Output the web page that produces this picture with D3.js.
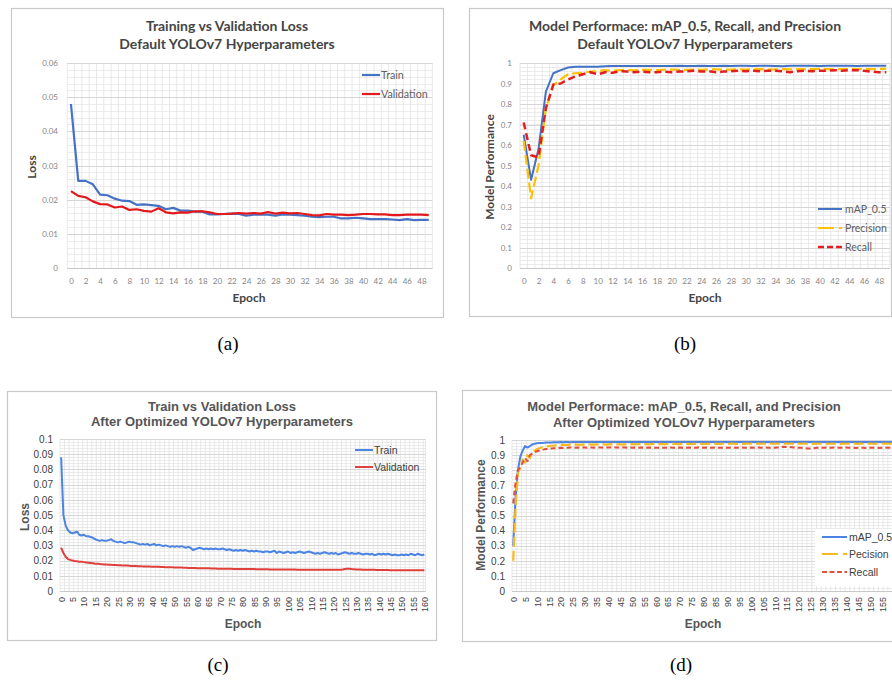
<!DOCTYPE html>
<html><head><meta charset="utf-8">
<script src="https://cdn.jsdelivr.net/npm/d3@7"></script>
<style>body{margin:0;background:#fff}svg{display:block}</style>
</head><body>
<svg id="chart" width="892" height="682"></svg>
<script>
// ---------- Panel (a): default loss ----------
const epochsA = d3.range(0, 50);
const trainA = [0.048,0.0255,0.0255,0.0245,0.0215,0.0213,0.0203,0.0197,0.0196,0.0185,
0.0186,0.0184,0.0182,0.0172,0.0176,0.0168,0.0168,0.0165,0.0165,0.0157,
0.0157,0.0158,0.0159,0.0158,0.0153,0.0156,0.0156,0.0156,0.0153,0.0157,
0.0156,0.0155,0.0153,0.0150,0.0149,0.0150,0.0150,0.0145,0.0145,0.0147,
0.0145,0.0143,0.0143,0.0143,0.0142,0.0140,0.0143,0.0140,0.0141,0.0141];
const valA = [0.0225,0.0211,0.0207,0.0195,0.0187,0.0186,0.0177,0.0180,0.0170,0.0172,
0.0167,0.0165,0.0175,0.0163,0.0160,0.0163,0.0162,0.0166,0.0166,0.0163,
0.0158,0.0158,0.0159,0.0161,0.0159,0.0161,0.0159,0.0164,0.0159,0.0162,
0.0160,0.0161,0.0158,0.0155,0.0154,0.0158,0.0156,0.0156,0.0155,0.0156,
0.0158,0.0158,0.0157,0.0157,0.0155,0.0155,0.0156,0.0156,0.0156,0.0155];
const yTicksA = [0,0.01,0.02,0.03,0.04,0.05,0.06];

// ---------- Panel (b): default performance ----------
const epochsB = d3.range(0, 50);
const mapB = [0.65,0.43,0.58,0.86,0.95,0.965,0.978,0.982,0.982,0.982,
0.982,0.984,0.985,0.985,0.985,0.985,0.985,0.985,0.985,0.985,
0.985,0.986,0.985,0.985,0.986,0.985,0.985,0.986,0.985,0.986,
0.986,0.985,0.986,0.986,0.985,0.984,0.986,0.986,0.986,0.986,
0.985,0.986,0.986,0.986,0.986,0.985,0.986,0.986,0.986,0.986];
const precB = [0.62,0.34,0.50,0.78,0.89,0.92,0.945,0.95,0.952,0.958,
0.96,0.965,0.962,0.965,0.966,0.964,0.966,0.967,0.965,0.967,
0.968,0.967,0.966,0.968,0.967,0.968,0.969,0.967,0.968,0.969,
0.968,0.969,0.97,0.968,0.969,0.97,0.969,0.97,0.969,0.97,
0.971,0.97,0.969,0.97,0.971,0.97,0.971,0.97,0.971,0.972];
const recB = [0.71,0.55,0.54,0.78,0.895,0.90,0.92,0.935,0.945,0.955,
0.945,0.955,0.952,0.96,0.958,0.955,0.958,0.955,0.955,0.958,
0.955,0.958,0.96,0.962,0.958,0.96,0.955,0.958,0.96,0.962,
0.96,0.962,0.96,0.962,0.962,0.96,0.955,0.96,0.962,0.96,
0.962,0.962,0.965,0.962,0.965,0.965,0.962,0.958,0.955,0.955];
const yTicksB = [0,0.1,0.2,0.3,0.4,0.5,0.6,0.7,0.8,0.9,1];

// ---------- Panel (c): optimized loss ----------
const epochsC = d3.range(0, 161);
const trainC = [0.088,0.050,0.043,0.040,0.0385,0.038,0.0385,0.039,0.037,0.0365,
0.037,0.036,0.036,0.0355,0.035,0.034,0.0335,0.033,0.0335,0.033,
0.033,0.0335,0.034,0.033,0.0325,0.032,0.0325,0.032,0.0315,0.032,
0.0325,0.032,0.032,0.0315,0.031,0.0305,0.031,0.0305,0.031,0.030,
0.0305,0.031,0.030,0.0305,0.030,0.0295,0.030,0.0295,0.029,0.0295,
0.029,0.0295,0.029,0.0295,0.029,0.0285,0.029,0.0285,0.027,0.0275,
0.028,0.0285,0.028,0.0275,0.028,0.0275,0.028,0.0275,0.028,0.0275,
0.0275,0.028,0.0275,0.027,0.0275,0.027,0.0265,0.027,0.0265,0.027,
0.0265,0.027,0.0265,0.026,0.0265,0.026,0.0265,0.026,0.026,0.0255,
0.026,0.026,0.0255,0.026,0.0265,0.025,0.026,0.0255,0.025,0.0255,
0.026,0.025,0.0255,0.025,0.0255,0.026,0.0255,0.025,0.0255,0.026,
0.0255,0.025,0.0245,0.025,0.0245,0.025,0.0255,0.025,0.0245,0.025,
0.0245,0.025,0.024,0.0245,0.025,0.0255,0.025,0.0245,0.025,0.0245,
0.0245,0.025,0.0245,0.024,0.0245,0.0245,0.024,0.0245,0.0235,0.024,
0.0245,0.024,0.0245,0.024,0.0245,0.024,0.0235,0.024,0.0235,0.0235,
0.024,0.0235,0.024,0.0235,0.0245,0.024,0.0235,0.0245,0.024,0.0235,
0.024];
const valC = [0.0285,0.025,0.0225,0.021,0.0205,0.020,0.0197,0.0195,0.0193,0.0192,
0.019,0.0188,0.0186,0.0184,0.0182,0.018,0.0179,0.0177,0.0176,0.0175,
0.0174,0.0173,0.0172,0.0171,0.0171,0.017,0.0169,0.0168,0.0168,0.0167,
0.0166,0.0165,0.0165,0.0164,0.0163,0.0163,0.0162,0.0162,0.0161,0.0161,
0.016,0.016,0.0159,0.0159,0.0158,0.0158,0.0157,0.0157,0.0156,0.0156,
0.0155,0.0155,0.0154,0.0154,0.0153,0.0153,0.0152,0.0152,0.0151,0.0151,
0.015,0.015,0.015,0.0149,0.0149,0.0149,0.0148,0.0148,0.0148,0.0147,
0.0147,0.0147,0.0146,0.0146,0.0146,0.0146,0.0145,0.0145,0.0145,0.0145,
0.0145,0.0144,0.0144,0.0144,0.0144,0.0144,0.0143,0.0143,0.0143,0.0143,
0.0143,0.0143,0.0142,0.0142,0.0142,0.0142,0.0142,0.0142,0.0141,0.0141,
0.0141,0.0141,0.0141,0.0141,0.014,0.014,0.014,0.014,0.014,0.014,
0.0139,0.0139,0.0139,0.0139,0.0139,0.0139,0.0139,0.0139,0.0139,0.0139,
0.0139,0.0139,0.0139,0.014,0.0142,0.0145,0.0147,0.0146,0.0144,0.0143,
0.0142,0.0141,0.0141,0.014,0.014,0.014,0.0139,0.0139,0.0139,0.0138,
0.0138,0.0138,0.0138,0.0138,0.0138,0.0137,0.0137,0.0137,0.0137,0.0137,
0.0137,0.0137,0.0137,0.0137,0.0137,0.0137,0.0137,0.0137,0.0137,0.0137,
0.0136];
const yTicksC = [0,0.01,0.02,0.03,0.04,0.05,0.06,0.07,0.08,0.09,0.1];

// ---------- Panel (d): optimized performance ----------
const epochsD = d3.range(0, 161);
const mapD = [0.30,0.62,0.80,0.89,0.93,0.96,0.95,0.96,0.97,0.975,
0.978,0.98,0.98,0.982,0.983,0.984,0.984,0.985,0.985,0.985,
0.986,0.985,0.986,0.986,0.985,0.986,0.986,0.987,0.986,0.986,
0.986,0.987,0.986,0.986,0.987,0.986,0.986,0.987,0.986,0.987,
0.986,0.987,0.987,0.986,0.987,0.986,0.987,0.987,0.986,0.987,
0.987,0.986,0.987,0.987,0.986,0.987,0.987,0.987,0.986,0.987,
0.987,0.986,0.987,0.987,0.987,0.986,0.987,0.987,0.986,0.987,
0.987,0.987,0.986,0.987,0.987,0.986,0.987,0.987,0.987,0.986,
0.987,0.987,0.986,0.987,0.987,0.987,0.986,0.987,0.987,0.986,
0.987,0.987,0.987,0.986,0.987,0.987,0.986,0.987,0.987,0.987,
0.986,0.987,0.987,0.986,0.987,0.987,0.987,0.986,0.987,0.987,
0.986,0.987,0.987,0.987,0.986,0.987,0.987,0.986,0.987,0.987,
0.987,0.986,0.987,0.987,0.986,0.987,0.987,0.987,0.986,0.987,
0.987,0.986,0.987,0.987,0.987,0.986,0.987,0.987,0.986,0.987,
0.987,0.987,0.986,0.987,0.987,0.986,0.987,0.987,0.987,0.986,
0.987,0.987,0.986,0.987,0.987,0.987,0.986,0.987,0.987,0.986,
0.987];
const precD = [0.20,0.55,0.78,0.82,0.87,0.85,0.90,0.88,0.92,0.93,
0.94,0.945,0.95,0.955,0.958,0.96,0.962,0.963,0.965,0.966,
0.966,0.968,0.967,0.968,0.969,0.968,0.970,0.969,0.968,0.970,
0.969,0.970,0.971,0.969,0.970,0.971,0.970,0.969,0.971,0.970,
0.971,0.972,0.970,0.971,0.972,0.971,0.970,0.972,0.971,0.972,
0.973,0.971,0.972,0.973,0.972,0.971,0.973,0.972,0.973,0.974,
0.972,0.973,0.974,0.973,0.972,0.974,0.973,0.974,0.975,0.973,
0.974,0.973,0.974,0.975,0.974,0.973,0.975,0.974,0.975,0.974,
0.973,0.975,0.974,0.975,0.976,0.974,0.975,0.974,0.975,0.976,
0.974,0.975,0.976,0.975,0.974,0.976,0.975,0.974,0.976,0.975,
0.976,0.975,0.974,0.976,0.975,0.976,0.975,0.974,0.976,0.975,
0.976,0.975,0.976,0.974,0.975,0.976,0.975,0.976,0.975,0.974,
0.976,0.975,0.976,0.975,0.976,0.975,0.974,0.976,0.975,0.976,
0.975,0.976,0.974,0.975,0.976,0.975,0.976,0.975,0.974,0.976,
0.975,0.976,0.975,0.976,0.975,0.974,0.976,0.975,0.976,0.975,
0.976,0.975,0.974,0.976,0.975,0.976,0.975,0.976,0.975,0.974,
0.976];
const recD = [0.58,0.72,0.80,0.82,0.85,0.88,0.86,0.90,0.91,0.92,
0.925,0.93,0.935,0.938,0.94,0.942,0.944,0.945,0.946,0.947,
0.948,0.947,0.949,0.948,0.950,0.949,0.948,0.950,0.949,0.951,
0.950,0.949,0.951,0.950,0.949,0.951,0.950,0.951,0.949,0.950,
0.951,0.950,0.949,0.951,0.950,0.949,0.950,0.951,0.949,0.950,
0.949,0.950,0.948,0.949,0.950,0.948,0.949,0.950,0.948,0.949,
0.948,0.949,0.950,0.948,0.949,0.948,0.950,0.949,0.948,0.949,
0.950,0.948,0.949,0.948,0.950,0.949,0.948,0.949,0.950,0.948,
0.949,0.950,0.948,0.949,0.948,0.950,0.949,0.948,0.949,0.950,
0.948,0.949,0.950,0.948,0.949,0.948,0.950,0.949,0.948,0.949,
0.950,0.948,0.949,0.950,0.949,0.948,0.950,0.949,0.948,0.950,
0.949,0.950,0.951,0.953,0.955,0.954,0.953,0.952,0.951,0.950,
0.949,0.948,0.947,0.946,0.944,0.943,0.945,0.947,0.948,0.949,
0.948,0.949,0.950,0.948,0.949,0.950,0.948,0.949,0.948,0.949,
0.950,0.948,0.949,0.948,0.947,0.948,0.949,0.948,0.947,0.948,
0.949,0.948,0.949,0.948,0.947,0.949,0.950,0.949,0.948,0.949,
0.948];
const yTicksD = [0,0.1,0.2,0.3,0.4,0.5,0.6,0.7,0.8,0.9,1];

const captions = ["(a)", "(b)", "(c)", "(d)"];

const svg = d3.select("#chart");
const fmt = d => String(+d.toFixed(3));
const W = 892;

function panel(o) {
  const g = svg.append("g");
  g.append("rect").attr("x", o.frame[0] + 0.5).attr("y", o.frame[1] + 0.5)
    .attr("width", o.frame[2] - o.frame[0]).attr("height", o.frame[3] - o.frame[1])
    .attr("fill", "#fff").attr("stroke", "#c8c8c8").attr("stroke-width", 1.2);

  const x = d3.scalePoint().domain(o.cats).range([o.px[0], o.px[1]]).padding(0.5);
  const step = x.step();
  const y = d3.scaleLinear().domain([0, o.ymax]).range([o.py[0], o.py[1]]);
  const grid = g.append("g");
  const minorH = d3.range(0, o.ymax + 1e-9, o.ymax / o.minorH);
  grid.selectAll(".mh").data(minorH).join("line")
    .attr("x1", o.px[0]).attr("x2", o.px[1])
    .attr("y1", d => Math.round(y(d)) + 0.5).attr("y2", d => Math.round(y(d)) + 0.5)
    .attr("stroke", "#ececec").attr("stroke-width", 1);
  const vb = o.cats.filter((c, i) => i % o.vEvery === 0).map(c => x(c) - step / 2);
  vb.push(o.px[1]);
  grid.selectAll(".vg").data(vb).join("line")
    .attr("x1", d => d).attr("x2", d => d)
    .attr("y1", y(o.ymax)).attr("y2", y(0))
    .attr("stroke", "#e2e2e2").attr("stroke-width", 0.8);
  grid.selectAll(".hg").data(o.yTicks).join("line")
    .attr("x1", o.px[0]).attr("x2", o.px[1])
    .attr("y1", d => Math.round(y(d)) + 0.5).attr("y2", d => Math.round(y(d)) + 0.5)
    .attr("stroke", "#d6d6d6").attr("stroke-width", 1);
  g.append("line").attr("x1", o.px[0]).attr("x2", o.px[1])
    .attr("y1", Math.round(y(0)) + 0.5).attr("y2", Math.round(y(0)) + 0.5)
    .attr("stroke", "#c8c8c8");

  const yAxis = d3.axisLeft(y).tickValues(o.yTicks).tickFormat(fmt).tickSize(0).tickPadding(0);
  const ya = g.append("g").attr("transform", `translate(${o.yLabX},0)`).call(yAxis);
  ya.select(".domain").remove();
  ya.selectAll("text").attr("font-family", o.tickFont).attr("font-size", o.tickSize).attr("fill", o.tickColor);

  const xVals = o.cats.filter((c, i) => i % o.xEvery === 0 && x(c) + 4 < W);
  const xAxis = d3.axisBottom(x).tickValues(xVals).tickSize(0).tickPadding(0);
  const xa = g.append("g").attr("transform", `translate(0,${o.xLabY})`).call(xAxis);
  xa.select(".domain").remove();
  xa.selectAll("text").attr("font-family", o.tickFont).attr("font-size", o.xTickSize || o.tickSize).attr("fill", o.tickColor);
  if (o.rotate) {
    xa.selectAll("text").attr("transform", "rotate(-90)").attr("text-anchor", "end")
      .attr("dy", "0.35em").attr("y", 0).attr("x", 0);
  } else {
    xa.selectAll("text").attr("dy", "0.35em").attr("y", 0);
  }

  const line = d3.line().x((d, i) => x(o.cats[i])).y(d => y(d));
  o.series.forEach(s => {
    g.append("path").datum(s.values).attr("d", line).attr("fill", "none")
      .attr("stroke", s.color).attr("stroke-width", s.width)
      .attr("stroke-dasharray", s.dash || null).attr("stroke-linejoin", "round");
  });

  o.title.forEach((t, i) => {
    g.append("text").attr("x", o.titleX).attr("y", o.titleY[i]).attr("text-anchor", "middle")
      .attr("font-family", o.titleFont).attr("font-weight", "bold").attr("font-size", o.titleSize)
      .attr("fill", o.titleColor).text(t);
  });
  g.append("text").attr("x", o.xTitle[0]).attr("y", o.xTitle[1]).attr("text-anchor", "middle")
    .attr("font-family", o.titleFont).attr("font-weight", "bold").attr("font-size", o.axTitleSize)
    .attr("fill", o.titleColor).text("Epoch");
  g.append("text").attr("transform", `translate(${o.yTitle[0]},${o.yTitle[1]}) rotate(-90)`)
    .attr("text-anchor", "middle").attr("dy", "0.35em")
    .attr("font-family", o.titleFont).attr("font-weight", "bold").attr("font-size", o.axTitleSize)
    .attr("fill", o.titleColor).text(o.yTitleText);

  const lg = g.append("g");
  if (o.legendBox) {
    lg.append("rect").attr("x", o.legendBox[0]).attr("y", o.legendBox[1])
      .attr("width", o.legendBox[2]).attr("height", o.legendBox[3]).attr("fill", "#fff");
  }
  o.series.forEach((s, i) => {
    const ly = o.legend.y[i];
    lg.append("line").attr("x1", o.legend.x0).attr("x2", o.legend.x1).attr("y1", ly).attr("y2", ly)
      .attr("stroke", s.color).attr("stroke-width", s.width)
      .attr("stroke-dasharray", s.legendDash || null);
    lg.append("text").attr("x", o.legend.tx).attr("y", ly).attr("dy", "0.35em")
      .attr("font-family", o.legendFont).attr("font-size", o.legendSize).attr("fill", o.tickColor2 || "#404040")
      .text(s.name);
  });
}

// (a)
panel({
  frame: [11, 8, 443, 317], cats: epochsA, px: [67.3, 432.4], py: [268, 63], ymax: 0.06,
  yTicks: yTicksA, minorH: 30, vEvery: 1, xEvery: 2, yLabX: 58, xLabY: 281,
  tickFont: "Lato, 'Open Sans', sans-serif", tickSize: 8, tickColor: "#858585",
  series: [
    { name: "Train", values: trainA, color: "#4472C4", width: 2.2 },
    { name: "Validation", values: valA, color: "#E3191C", width: 2.2 }
  ],
  title: ["Training vs Validation Loss", "Default YOLOv7 Hyperparameters"],
  titleX: 227, titleY: [31, 49], titleFont: "Lato, sans-serif", titleSize: 14, titleColor: "#454545",
  xTitle: [249, 302], yTitle: [32, 167], yTitleText: "Loss", axTitleSize: 12,
  legend: { x0: 362, x1: 380, tx: 381, y: [75, 94] }, legendFont: "Lato, sans-serif", legendSize: 10.7, tickColor2: "#606060"
});

// (b)
panel({
  frame: [469, 8, 891, 316], cats: epochsB, px: [520, 890], py: [268, 63], ymax: 1,
  yTicks: yTicksB, minorH: 50, vEvery: 1, xEvery: 2, yLabX: 512, xLabY: 281,
  tickFont: "Lato, 'Open Sans', sans-serif", tickSize: 8, tickColor: "#858585",
  series: [
    { name: "mAP_0.5", values: mapB, color: "#4472C4", width: 2 },
    { name: "Precision", values: precB, color: "#FFC000", width: 2.2, dash: "10,4", legendDash: "16,5" },
    { name: "Recall", values: recB, color: "#E31E1E", width: 2.5, dash: "7,4", legendDash: "6,3" }
  ],
  title: ["Model Performace: mAP_0.5, Recall, and Precision", "Default YOLOv7 Hyperparameters"],
  titleX: 685, titleY: [31, 49], titleFont: "Lato, sans-serif", titleSize: 14, titleColor: "#454545",
  xTitle: [705, 302], yTitle: [490, 167], yTitleText: "Model Performance", axTitleSize: 12,
  legend: { x0: 818, x1: 842, tx: 845, y: [209, 228, 247] }, legendFont: "Lato, sans-serif", legendSize: 10.5, tickColor2: "#606060"
});

// (c)
panel({
  frame: [7, 391, 436, 640], cats: epochsC, px: [60, 425.5], py: [591, 439], ymax: 0.1,
  yTicks: yTicksC, minorH: 50, vEvery: 2, xEvery: 5, yLabX: 53, xLabY: 597,
  tickFont: "'Liberation Sans', Arial, sans-serif", tickSize: 10, xTickSize: 9, tickColor: "#404040",
  rotate: true,
  series: [
    { name: "Train", values: trainC, color: "#4C84E4", width: 2 },
    { name: "Validation", values: valC, color: "#E0403C", width: 2 }
  ],
  title: ["Train vs Validation Loss", "After Optimized YOLOv7 Hyperparameters"],
  titleX: 222, titleY: [410.5, 426], titleFont: "'Liberation Sans', Arial, sans-serif", titleSize: 13, titleColor: "#555555",
  xTitle: [243, 627.5], yTitle: [25, 517], yTitleText: "Loss", axTitleSize: 12,
  legend: { x0: 355, x1: 373, tx: 374, y: [450, 467] }, legendFont: "'Liberation Sans', Arial, sans-serif", legendSize: 10.5, tickColor2: "#404040"
});

// (d)
panel({
  frame: [462, 390, 905, 641], cats: epochsD, px: [512, 895], py: [591, 440], ymax: 1,
  yTicks: yTicksD, minorH: 50, vEvery: 2, xEvery: 5, yLabX: 505, xLabY: 597,
  tickFont: "'Liberation Sans', Arial, sans-serif", tickSize: 10, xTickSize: 9, tickColor: "#404040",
  rotate: true,
  series: [
    { name: "mAP_0.5", values: mapD, color: "#4C84E4", width: 2 },
    { name: "Pecision", values: precD, color: "#F6BA20", width: 2.2, dash: "10,4", legendDash: "16,5" },
    { name: "Recall", values: recD, color: "#E0503A", width: 2, dash: "5,3", legendDash: "5,2.5" }
  ],
  title: ["Model Performace: mAP_0.5, Recall, and Precision", "After Optimized YOLOv7 Hyperparameters"],
  titleX: 684, titleY: [410.5, 426.5], titleFont: "'Liberation Sans', Arial, sans-serif", titleSize: 13, titleColor: "#555555",
  xTitle: [703, 627.5], yTitle: [481, 515], yTitleText: "Model Performance", axTitleSize: 12,
  legendBox: [815, 529, 80, 57],
  legend: { x0: 822, x1: 847, tx: 849, y: [537, 554, 572] }, legendFont: "'Liberation Sans', Arial, sans-serif", legendSize: 10.5, tickColor2: "#404040"
});

const capPos = [[228, 350], [685, 350], [218, 671], [681, 671]];
svg.selectAll(".cap").data(captions).join("text")
  .attr("x", (d, i) => capPos[i][0]).attr("y", (d, i) => capPos[i][1])
  .attr("text-anchor", "middle").attr("font-family", "'Liberation Serif', 'Times New Roman', serif")
  .attr("font-size", 19).attr("fill", "#000").text(d => d);
</script>
</body></html>
